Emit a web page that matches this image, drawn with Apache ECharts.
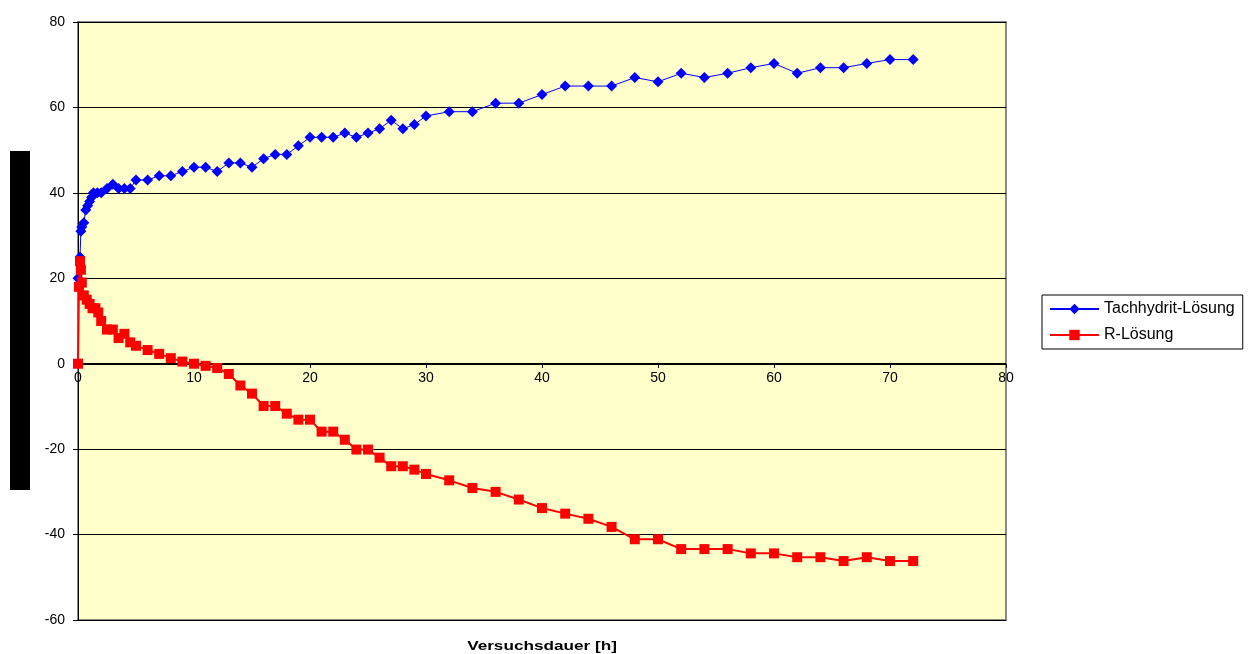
<!DOCTYPE html>
<html>
<head>
<meta charset="utf-8">
<script src="https://cdn.jsdelivr.net/npm/echarts@6/dist/echarts.min.js"></script>
<style>
html,body{margin:0;padding:0;background:#fff;}
#c{width:1248px;height:654px;}
</style>
</head>
<body>
<div id="c"></div>
<script>
// Data
const tachX = [0, 0.17, 0.25, 0.33, 0.5, 0.67, 0.83, 1, 1.17, 1.33, 1.67, 2, 2.5, 3, 3.5, 4, 4.5, 5, 6, 7, 8, 9, 10, 11, 12, 13, 14, 15, 16, 17, 18, 19, 20, 21, 22, 23, 24, 25, 26, 27, 28, 29, 30, 32, 34, 36, 38, 40, 42, 44, 46, 48, 50, 52, 54, 56, 58, 60, 62, 64, 66, 68, 70, 72];
const tachY = [20, 25, 31, 32, 33, 36, 37, 38, 39, 40, 40, 40, 41, 42, 41, 41, 41, 43, 43, 44, 44, 45, 46, 46, 45, 47, 47, 46, 48, 49, 49, 51, 53, 53, 53, 54, 53, 54, 55, 57, 55, 56, 58, 59, 59, 61, 61, 63, 65, 65, 65, 67, 66, 68, 67, 68, 69.3, 70.3, 68, 69.3, 69.3, 70.3, 71.2, 71.2];

const rX = [0, 0.08, 0.17, 0.25, 0.33, 0.5, 0.75, 1, 1.25, 1.5, 1.75, 2, 2.5, 3, 3.5, 4, 4.5, 5, 6, 7, 8, 9, 10, 11, 12, 13, 14, 15, 16, 17, 18, 19, 20, 21, 22, 23, 24, 25, 26, 27, 28, 29, 30, 32, 34, 36, 38, 40, 42, 44, 46, 48, 50, 52, 54, 56, 58, 60, 62, 64, 66, 68, 70, 72];
const rY = [0, 18, 24, 22, 19, 16, 15, 14, 13, 13, 12, 10, 8, 8, 6, 7, 5, 4.2, 3.2, 2.3, 1.3, 0.5, 0, -0.5, -1, -2.4, -5.1, -7, -9.9, -9.9, -11.7, -13.1, -13.1, -15.9, -15.9, -17.8, -20.1, -20.1, -22, -24, -24, -24.8, -25.8, -27.3, -29.1, -30, -31.8, -33.8, -35.1, -36.3, -38.2, -41.1, -41.1, -43.4, -43.4, -43.4, -44.4, -44.4, -45.3, -45.3, -46.2, -45.3, -46.2, -46.2];

const seriesNames = ['Tachhydrit-Lösung', 'R-Lösung'];
const xTitle = 'Versuchsdauer [h]';

const chart = echarts.init(document.getElementById('c'), null, {renderer: 'canvas'});
const font = '"Liberation Sans", Arial, sans-serif';
chart.setOption({
  animation: false,
  backgroundColor: '#ffffff',
  grid: {
    left: 78, right: 242, top: 22, bottom: 34,
    show: true, backgroundColor: '#FFFFCC', borderColor: '#888888', borderWidth: 2
  },
  xAxis: {
    type: 'value', min: 0, max: 80, interval: 10,
    offset: -256,
    axisLine: {show: true, onZero: false, lineStyle: {color: '#000', width: 1}},
    axisTick: {show: true, length: 4, lineStyle: {color: '#000'}},
    axisLabel: {color: '#000', fontFamily: font, fontSize: 14, margin: 7},
    splitLine: {show: false}
  },
  yAxis: {
    type: 'value', min: -60, max: 80, interval: 20,
    axisLine: {show: true, onZero: false, lineStyle: {color: '#000', width: 1}},
    axisTick: {show: true, length: 5, lineStyle: {color: '#000'}},
    axisLabel: {color: '#000', fontFamily: font, fontSize: 14, margin: 13},
    splitLine: {show: true, lineStyle: {color: '#000', width: 1}}
  },
  legend: {
    orient: 'vertical', left: 1042, top: 295,
    backgroundColor: '#fff', borderColor: '#000', borderWidth: 1,
    padding: [6, 8, 6, 7], itemGap: 10, itemWidth: 49, itemHeight: 13,
    textStyle: {color: '#000', fontFamily: font, fontSize: 16},
    data: seriesNames
  },
  series: [
    {
      name: seriesNames[0], type: 'line',
      data: tachX.map((x, i) => [x, tachY[i]]),
      symbol: 'diamond', symbolSize: 11,
      itemStyle: {color: '#0000FF'},
      lineStyle: {color: '#0000FF', width: 1},
      z: 2
    },
    {
      name: seriesNames[1], type: 'line',
      data: rX.map((x, i) => [x, rY[i]]),
      symbol: 'rect', symbolSize: 10,
      itemStyle: {color: '#FF0000'},
      lineStyle: {color: '#FF0000', width: 2},
      z: 3
    }
  ],
  graphic: [
    {type: 'rect', left: 10, top: 151, shape: {width: 20, height: 339}, style: {fill: '#000'}},
    {type: 'text', x: 542, y: 646, scaleX: 1.32, originX: 0, originY: 0,
     style: {text: xTitle, align: 'center', verticalAlign: 'middle',
             font: 'bold 13px "Liberation Sans", Arial, sans-serif', fill: '#000'}}
  ]
});
</script>
</body>
</html>
